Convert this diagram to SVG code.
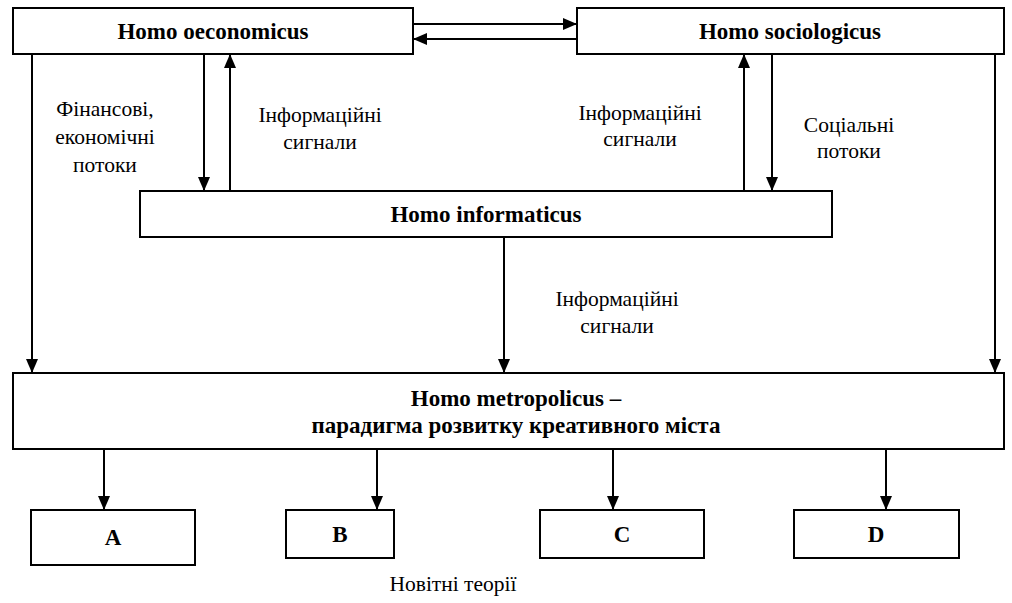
<svg xmlns="http://www.w3.org/2000/svg" width="1012" height="603" viewBox="0 0 1012 603">
<style>
.box{fill:#fff;stroke:#000;stroke-width:2}
.t{font-family:'Liberation Serif','Times New Roman',Times,serif;font-weight:bold;font-size:23px;text-anchor:middle;fill:#000}
.l{font-family:'Liberation Serif','Times New Roman',Times,serif;font-size:21.5px;text-anchor:middle;fill:#000}
.c{stroke:#000;stroke-width:2;fill:none;marker-end:url(#ah)}
</style>
<defs>
<marker id="ah" markerUnits="userSpaceOnUse" markerWidth="14" markerHeight="14" viewBox="0 0 14 14" refX="14" refY="7" orient="auto">
<path d="M0,1 L14,7 L0,13 z" fill="#000"/>
</marker>
</defs>
<rect width="1012" height="603" fill="#fff"/>
<g id="connectors">
<line class="c" x1="413" y1="24" x2="577" y2="24"/>
<line class="c" x1="577" y1="39" x2="413" y2="39"/>
<line class="c" x1="32" y1="54" x2="32" y2="373"/>
<line class="c" x1="204" y1="54" x2="204" y2="191"/>
<line class="c" x1="230" y1="191" x2="230" y2="54"/>
<line class="c" x1="744" y1="191" x2="744" y2="54"/>
<line class="c" x1="772" y1="54" x2="772" y2="191"/>
<line class="c" x1="995" y1="54" x2="995" y2="373"/>
<line class="c" x1="504" y1="237" x2="504" y2="373"/>
<line class="c" x1="104" y1="449" x2="104" y2="510"/>
<line class="c" x1="377" y1="449" x2="377" y2="510"/>
<line class="c" x1="613" y1="449" x2="613" y2="510"/>
<line class="c" x1="886" y1="449" x2="886" y2="510"/>
</g>
<g id="labels">
<text class="l" x="105" y="116">Фінансові,</text>
<text class="l" x="105" y="144">економічні</text>
<text class="l" x="105" y="172">потоки</text>
<text class="l" x="320" y="122">Інформаційні</text>
<text class="l" x="320" y="149">сигнали</text>
<text class="l" x="640" y="120">Інформаційні</text>
<text class="l" x="640" y="146">сигнали</text>
<text class="l" x="849" y="132">Соціальні</text>
<text class="l" x="849" y="158">потоки</text>
<text class="l" x="617" y="306">Інформаційні</text>
<text class="l" x="617" y="333">сигнали</text>
<text class="l" x="453" y="591">Новітні теорії</text>
</g>
<g id="oeconomicus"><rect class="box" x="13" y="8" width="400" height="46"/><text class="t" x="213" y="39">Homo oeconomicus</text></g>
<g id="sociologicus"><rect class="box" x="577" y="8" width="427" height="46"/><text class="t" x="790" y="39">Homo sociologicus</text></g>
<g id="informaticus"><rect class="box" x="140" y="191" width="692" height="46"/><text class="t" x="486" y="222">Homo informaticus</text></g>
<g id="metropolicus"><rect class="box" x="13" y="373" width="991" height="76"/><text class="t" x="516" y="406">Homo metropolicus –</text><text class="t" x="516" y="433">парадигма розвитку креативного міста</text></g>
<g id="A"><rect class="box" x="31" y="510" width="164" height="55"/><text class="t" x="113" y="545">A</text></g>
<g id="B"><rect class="box" x="286" y="510" width="108" height="48"/><text class="t" x="340" y="542">B</text></g>
<g id="C"><rect class="box" x="540" y="510" width="164" height="48"/><text class="t" x="622" y="542">C</text></g>
<g id="D"><rect class="box" x="794" y="510" width="165" height="48"/><text class="t" x="876" y="542">D</text></g>
</svg>
